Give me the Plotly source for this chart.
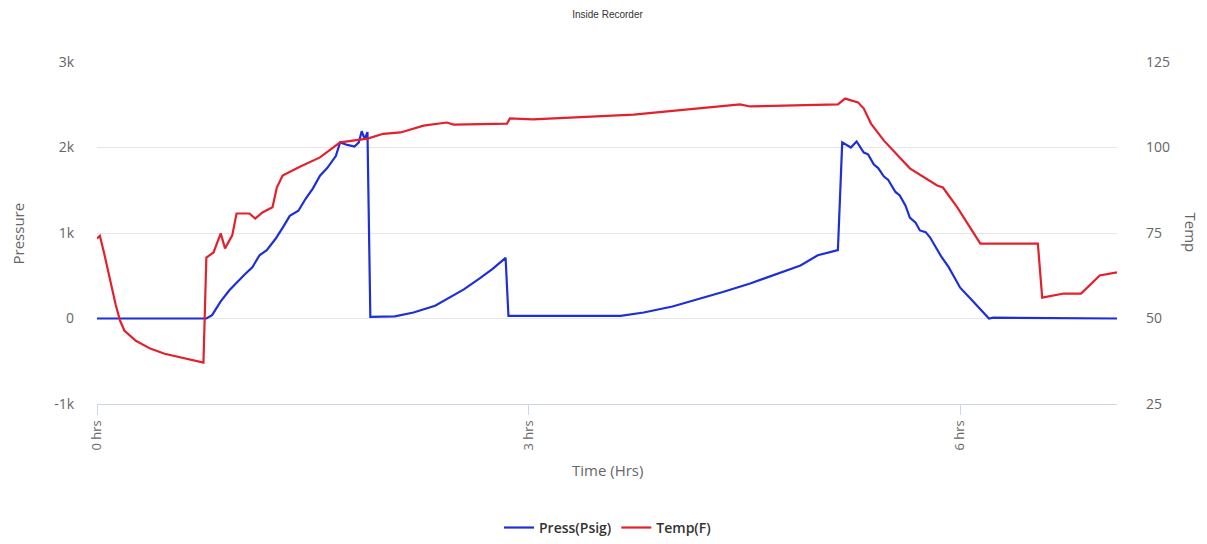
import plotly.graph_objects as go

# Pressure series (hours, psig)
press_hrs = [0.00, 0.76, 0.80, 0.86, 0.92, 0.97, 1.03, 1.08, 1.13, 1.18, 1.24, 1.29, 1.34, 1.40, 1.45,
             1.50, 1.55, 1.60, 1.66, 1.69, 1.74, 1.79, 1.82, 1.84, 1.86, 1.88, 1.90, 2.07, 2.20, 2.35,
             2.45, 2.55, 2.66, 2.75, 2.84, 2.86, 3.64, 3.80, 4.00, 4.19, 4.35, 4.54, 4.70, 4.89, 5.01,
             5.15, 5.18, 5.24, 5.28, 5.33, 5.36, 5.40, 5.43, 5.47, 5.50, 5.55, 5.58, 5.62, 5.65, 5.69,
             5.72, 5.76, 5.79, 5.83, 5.87, 5.92, 6.00, 6.10, 6.20, 6.23, 7.09]
press_psi = [0, 0, 40, 200, 330, 420, 520, 600, 740, 800, 930, 1060, 1200, 1260, 1400,
             1520, 1670, 1760, 1900, 2060, 2030, 2010, 2060, 2190, 2100, 2180, 20, 25, 70, 150,
             245, 340, 470, 580, 710, 30, 30, 70, 140, 230, 310, 410, 510, 620, 740,
             800, 2060, 2000, 2070, 1940, 1920, 1800, 1760, 1660, 1620, 1480, 1440, 1320, 1180, 1120,
             1030, 1010, 950, 830, 720, 600, 360, 180, 0, 10, 0]

# Temperature series (hours, F)
temp_hrs = [0.00, 0.02, 0.05, 0.09, 0.13, 0.16, 0.19, 0.27, 0.37, 0.47, 0.58, 0.74, 0.76, 0.81,
            0.86, 0.89, 0.94, 0.97, 1.06, 1.10, 1.15, 1.22, 1.25, 1.29, 1.41, 1.55, 1.69, 1.79,
            1.88, 1.99, 2.11, 2.27, 2.43, 2.48, 2.85, 2.87, 3.03, 3.73, 4.19, 4.47, 4.54, 5.15,
            5.20, 5.29, 5.33, 5.38, 5.47, 5.65, 5.84, 5.88, 5.98, 6.14, 6.54, 6.57, 6.72, 6.84,
            6.97, 7.09]
temp_f = [73.4, 74.2, 69.0, 61.0, 54.0, 49.4, 46.5, 43.5, 41.2, 39.7, 38.6, 37.1, 67.8, 69.3,
          74.9, 70.5, 74.3, 80.7, 80.7, 79.2, 81.0, 82.5, 88.3, 91.8, 94.4, 97.1, 101.5, 102.0,
          102.6, 104.0, 104.4, 106.4, 107.3, 106.7, 107.0, 108.5, 108.2, 109.6, 111.4, 112.6, 112.0, 112.6,
          114.3, 113.2, 111.4, 107.0, 102.0, 93.9, 88.9, 88.3, 82.5, 71.9, 71.9, 56.1, 57.3, 57.3,
          62.6, 63.5]

x_ticks = [0, 3, 6]
x_tick_text = ["0 hrs", "3 hrs", "6 hrs"]
p_ticks = [-1000, 0, 1000, 2000, 3000]
p_tick_text = ["-1k", "0", "1k", "2k", "3k"]
t_ticks = [25, 50, 75, 100, 125]

BLUE = "#1c2fd8"
RED = "#e3202b"
FONT = "Open Sans"

fig = go.Figure()
fig.add_trace(go.Scatter(x=press_hrs, y=press_psi, name="Press(Psig)", mode="lines",
                         line=dict(color=BLUE, width=2.2), yaxis="y"))
fig.add_trace(go.Scatter(x=temp_hrs, y=temp_f, name="Temp(F)", mode="lines",
                         line=dict(color=RED, width=2.2), yaxis="y2"))

fig.update_layout(
    width=1199, height=536,
    margin=dict(l=89, r=90, t=54, b=140),
    paper_bgcolor="white", plot_bgcolor="white",
    font=dict(family=FONT, color="#666666", size=13),
    title=dict(text="Inside Recorder", x=0.5, xanchor="center", y=0.987, yanchor="middle",
               font=dict(size=10, color="#333333", family="Liberation Sans")),
    xaxis=dict(range=[0, 7.09], tickvals=x_ticks, ticktext=x_tick_text, tickangle=-90,
               showgrid=False, zeroline=False, showline=True, linecolor="#ccd6eb", linewidth=1,
               ticks="outside", ticklen=10, tickcolor="#ccd6eb", automargin=False,
               tickfont=dict(size=13, color="#666666")),
    yaxis=dict(range=[-1000, 3000], tickvals=p_ticks, ticktext=p_tick_text, automargin=False,
               showgrid=True, gridcolor="#e6e6e6", gridwidth=1, zeroline=False,
               ticklabelstandoff=22, tickfont=dict(size=14, color="#666666")),
    yaxis2=dict(range=[25, 125], tickvals=t_ticks, overlaying="y", side="right", automargin=False,
                showgrid=False, zeroline=False, ticklabelstandoff=28,
                tickfont=dict(size=14, color="#666666")),
    legend=dict(orientation="h", x=0.5, xanchor="center", xref="container",
                y=0.030, yanchor="middle", yref="container",
                font=dict(size=14, color="#333333", family=FONT, weight=600), itemwidth=30),
    showlegend=True,
)
fig.add_annotation(text="Time (Hrs)", xref="paper", yref="paper", x=0.5, y=-0.193,
                   xanchor="center", yanchor="middle", showarrow=False,
                   font=dict(size=15, color="#666666"))
fig.add_annotation(text="Pressure", xref="paper", yref="paper", x=-0.077, y=0.5,
                   xanchor="center", yanchor="middle", showarrow=False, textangle=-90,
                   font=dict(size=15, color="#666666"))
fig.add_annotation(text="Temp", xref="paper", yref="paper", x=1.073, y=0.5,
                   xanchor="center", yanchor="middle", showarrow=False, textangle=90,
                   font=dict(size=15, color="#666666"))

fig.write_html("out.html")
